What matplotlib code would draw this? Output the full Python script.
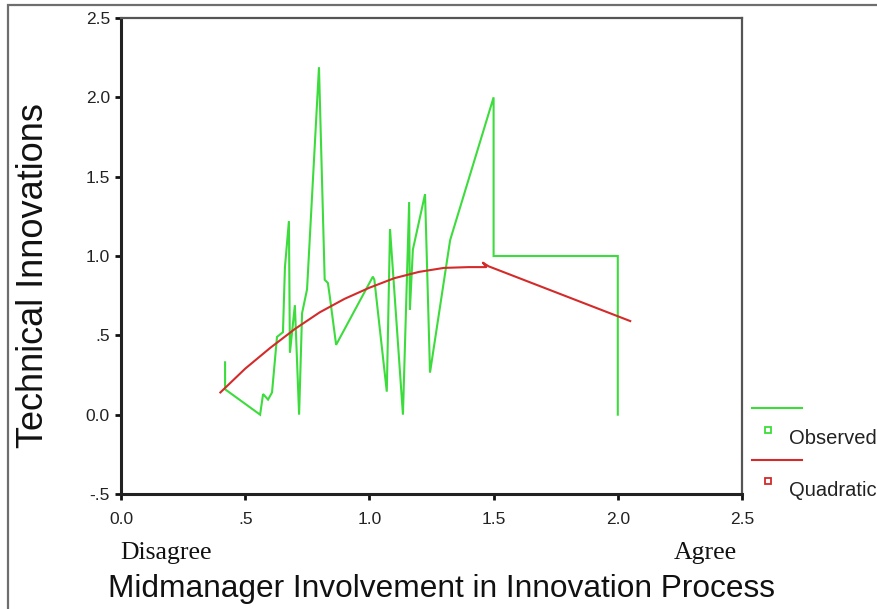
import matplotlib
matplotlib.use("Agg")
import matplotlib.pyplot as plt
from matplotlib.lines import Line2D
from matplotlib.patches import Rectangle

# ---- data ----
obs_x = [0.419, 0.419, 0.56, 0.572, 0.592, 0.608, 0.628, 0.652, 0.660, 0.676, 0.68, 0.70,
         0.717, 0.729, 0.749, 0.797, 0.82, 0.833, 0.841, 0.866, 1.014, 1.02, 1.07,
         1.083, 1.135, 1.16, 1.163, 1.175, 1.224, 1.244, 1.325, 1.5, 1.5, 2.0, 2.0]
obs_y = [0.33, 0.16, 0.0, 0.13, 0.095, 0.14, 0.49, 0.52, 0.93, 1.22, 0.39, 0.69,
         0.0, 0.64, 0.79, 2.19, 0.85, 0.83, 0.74, 0.44, 0.87, 0.85, 0.145,
         1.17, 0.0, 1.34, 0.66, 1.04, 1.39, 0.265, 1.10, 2.0, 1.0, 1.0, 0.0]

quad_x = [0.40, 0.5, 0.6, 0.7, 0.8, 0.9, 1.0, 1.1, 1.2, 1.3, 1.4, 1.47, 1.457, 1.48, 2.05]
quad_y = [0.14, 0.29, 0.42, 0.54, 0.645, 0.73, 0.80, 0.86, 0.90, 0.925, 0.93, 0.93, 0.958, 0.935, 0.59]

x_ticks = [0.0, 0.5, 1.0, 1.5, 2.0, 2.5]
x_tick_labels = ["0.0", ".5", "1.0", "1.5", "2.0", "2.5"]
y_ticks = [-0.5, 0.0, 0.5, 1.0, 1.5, 2.0, 2.5]
y_tick_labels = ["-.5", "0.0", ".5", "1.0", "1.5", "2.0", "2.5"]

GREEN = "#3ddc3d"
RED = "#d42a2a"

W, H = 877, 609
fig = plt.figure(figsize=(W / 100, H / 100), dpi=100)
fig.patch.set_facecolor("white")
plt.rcParams["font.family"] = ["Liberation Sans", "DejaVu Sans"]

# outer frame
fig.add_artist(Rectangle((8 / W, -0.05), 1.2, 1 - 5 / H + 0.05, transform=fig.transFigure,
                         fill=False, edgecolor="#6e6e6e", lw=1.6))

ax = fig.add_axes([121 / W, 1 - 494 / H, (742 - 121) / W, (494 - 18) / H])
ax.plot(obs_x, obs_y, color=GREEN, lw=1.5, solid_joinstyle="miter")
ax.plot(quad_x, quad_y, color=RED, lw=1.5)

ax.set_xlim(0, 2.5)
ax.set_ylim(-0.5, 2.5)
ax.set_xticks(x_ticks)
ax.set_xticklabels(x_tick_labels)
ax.set_yticks(y_ticks)
ax.set_yticklabels(y_tick_labels)
ax.tick_params(direction="out", length=4, width=2, color="#111111",
               labelsize=12.5, labelcolor="#222222")
ax.tick_params(axis="x", pad=9)
ax.tick_params(axis="y", pad=4)
for s in ("left", "bottom"):
    ax.spines[s].set_linewidth(2.2)
    ax.spines[s].set_color("#222222")
for s in ("top", "right"):
    ax.spines[s].set_linewidth(1.6)
    ax.spines[s].set_color("#555555")

# axis titles
fig.text(34 / W, 1 - 276 / H, "Technical Innovations", rotation=90, ha="center", va="center",
         fontsize=26, color="#111111")
fig.text(442 / W, 1 - 589 / H, "Midmanager Involvement in Innovation Process",
         ha="center", va="center", fontsize=22.8, color="#111111")
fig.text(166 / W, 1 - 553 / H, "Disagree", ha="center", va="center", fontsize=18.5,
         family=["Liberation Serif", "DejaVu Serif"], color="#111111")
fig.text(705 / W, 1 - 553 / H, "Agree", ha="center", va="center", fontsize=18.5,
         family=["Liberation Serif", "DejaVu Serif"], color="#111111")

# legend (outside right)
fig.add_artist(Line2D([752 / W, 802 / W], [1 - 408 / H, 1 - 408 / H], transform=fig.transFigure,
                      color=GREEN, lw=1.5))
fig.add_artist(Line2D([768 / W], [1 - 430 / H], transform=fig.transFigure, marker="s",
                      markersize=5, markerfacecolor="white", markeredgecolor=GREEN, mew=1.3))
fig.text(789 / W, 1 - 438 / H, "Observed", ha="left", va="center", fontsize=14.5, color="#222222")
fig.add_artist(Line2D([752 / W, 802 / W], [1 - 460 / H, 1 - 460 / H], transform=fig.transFigure,
                      color=RED, lw=1.5))
fig.add_artist(Line2D([768 / W], [1 - 481 / H], transform=fig.transFigure, marker="s",
                      markersize=5, markerfacecolor="white", markeredgecolor=RED, mew=1.3))
fig.text(789 / W, 1 - 490 / H, "Quadratic", ha="left", va="center", fontsize=14.5, color="#222222")

fig.savefig("out.png", dpi=100)
